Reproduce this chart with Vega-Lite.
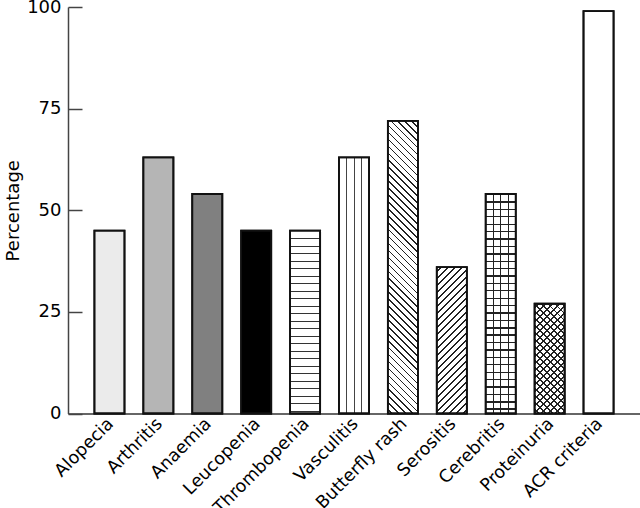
{
  "$schema": "https://vega.github.io/schema/vega-lite/v6.json",
  "autosize": "none",
  "padding": {"left": 68, "top": 7, "right": 0, "bottom": 95},
  "width": 572,
  "height": 406.5,
  "config": {"view": {"stroke": null}, "font": "DejaVu Sans"},
  "data": {"values": [
    {"symptom": "Alopecia", "pct": 45},
    {"symptom": "Arthritis", "pct": 63},
    {"symptom": "Anaemia", "pct": 54},
    {"symptom": "Leucopenia", "pct": 45},
    {"symptom": "Thrombopenia", "pct": 45},
    {"symptom": "Vasculitis", "pct": 63},
    {"symptom": "Butterfly rash", "pct": 72},
    {"symptom": "Serositis", "pct": 36},
    {"symptom": "Cerebritis", "pct": 54},
    {"symptom": "Proteinuria", "pct": 27},
    {"symptom": "ACR criteria", "pct": 99}
  ]},
  "encoding": {
    "x": {"field": "symptom", "type": "nominal", "sort": null,
      "scale": {"paddingInner": 0.385, "paddingOuter": 0.54},
      "axis": {"title": null, "ticks": false, "labelAngle": -45, "labelAlign": "right", "labelBaseline": "top", "labelFontSize": 17.5, "labelColor": "black", "labelPadding": 1, "labelOffset": -5, "domainColor": "#333", "domainWidth": 1.5}},
    "y": {"field": "pct", "type": "quantitative",
      "scale": {"domain": [0, 100]},
      "axis": {"title": "Percentage", "values": [0, 25, 50, 75, 100], "tickSize": -14, "labelPadding": 21, "tickColor": "#444", "tickWidth": 1.5, "domainColor": "#444", "domainWidth": 1.5, "grid": false, "labelFontSize": 18, "labelColor": "black", "titleFontSize": 18, "titleFontWeight": "normal", "titleColor": "black", "titlePadding": 4}}
  },
  "layer": [
    {
      "mark": {"type": "bar", "stroke": "#111", "strokeWidth": 1.8},
      "encoding": {"fill": {"condition": [
        {"test": "datum.symptom === 'Alopecia'", "value": "#ebebeb"},
        {"test": "datum.symptom === 'Arthritis'", "value": "#b5b5b5"},
        {"test": "datum.symptom === 'Anaemia'", "value": "#808080"},
        {"test": "datum.symptom === 'Leucopenia'", "value": "#000000"},
        {"test": "datum.symptom === 'Thrombopenia'", "value": {"gradient": "linear", "x1": 0, "y1": 0, "x2": 0, "y2": 1, "stops": [
          {"offset":0.041,"color":"#fff"},{"offset":0.041,"color":"#333"},{"offset":0.047,"color":"#333"},{"offset":0.047,"color":"#fff"},
          {"offset":0.082,"color":"#fff"},{"offset":0.082,"color":"#333"},{"offset":0.088,"color":"#333"},{"offset":0.088,"color":"#fff"},
          {"offset":0.123,"color":"#fff"},{"offset":0.123,"color":"#333"},{"offset":0.129,"color":"#333"},{"offset":0.129,"color":"#fff"},
          {"offset":0.164,"color":"#fff"},{"offset":0.164,"color":"#333"},{"offset":0.170,"color":"#333"},{"offset":0.170,"color":"#fff"},
          {"offset":0.205,"color":"#fff"},{"offset":0.205,"color":"#333"},{"offset":0.211,"color":"#333"},{"offset":0.211,"color":"#fff"},
          {"offset":0.246,"color":"#fff"},{"offset":0.246,"color":"#333"},{"offset":0.252,"color":"#333"},{"offset":0.252,"color":"#fff"},
          {"offset":0.287,"color":"#fff"},{"offset":0.287,"color":"#333"},{"offset":0.293,"color":"#333"},{"offset":0.293,"color":"#fff"},
          {"offset":0.328,"color":"#fff"},{"offset":0.328,"color":"#333"},{"offset":0.334,"color":"#333"},{"offset":0.334,"color":"#fff"},
          {"offset":0.369,"color":"#fff"},{"offset":0.369,"color":"#333"},{"offset":0.375,"color":"#333"},{"offset":0.375,"color":"#fff"},
          {"offset":0.410,"color":"#fff"},{"offset":0.410,"color":"#333"},{"offset":0.416,"color":"#333"},{"offset":0.416,"color":"#fff"},
          {"offset":0.451,"color":"#fff"},{"offset":0.451,"color":"#333"},{"offset":0.457,"color":"#333"},{"offset":0.457,"color":"#fff"},
          {"offset":0.492,"color":"#fff"},{"offset":0.492,"color":"#333"},{"offset":0.498,"color":"#333"},{"offset":0.498,"color":"#fff"},
          {"offset":0.533,"color":"#fff"},{"offset":0.533,"color":"#333"},{"offset":0.539,"color":"#333"},{"offset":0.539,"color":"#fff"},
          {"offset":0.574,"color":"#fff"},{"offset":0.574,"color":"#333"},{"offset":0.580,"color":"#333"},{"offset":0.580,"color":"#fff"},
          {"offset":0.615,"color":"#fff"},{"offset":0.615,"color":"#333"},{"offset":0.621,"color":"#333"},{"offset":0.621,"color":"#fff"},
          {"offset":0.656,"color":"#fff"},{"offset":0.656,"color":"#333"},{"offset":0.662,"color":"#333"},{"offset":0.662,"color":"#fff"},
          {"offset":0.697,"color":"#fff"},{"offset":0.697,"color":"#333"},{"offset":0.703,"color":"#333"},{"offset":0.703,"color":"#fff"},
          {"offset":0.738,"color":"#fff"},{"offset":0.738,"color":"#333"},{"offset":0.744,"color":"#333"},{"offset":0.744,"color":"#fff"},
          {"offset":0.779,"color":"#fff"},{"offset":0.779,"color":"#333"},{"offset":0.785,"color":"#333"},{"offset":0.785,"color":"#fff"},
          {"offset":0.820,"color":"#fff"},{"offset":0.820,"color":"#333"},{"offset":0.826,"color":"#333"},{"offset":0.826,"color":"#fff"},
          {"offset":0.861,"color":"#fff"},{"offset":0.861,"color":"#333"},{"offset":0.867,"color":"#333"},{"offset":0.867,"color":"#fff"},
          {"offset":0.902,"color":"#fff"},{"offset":0.902,"color":"#333"},{"offset":0.908,"color":"#333"},{"offset":0.908,"color":"#fff"},
          {"offset":0.943,"color":"#fff"},{"offset":0.943,"color":"#333"},{"offset":0.949,"color":"#333"},{"offset":0.949,"color":"#fff"},
          {"offset":0.984,"color":"#fff"},{"offset":0.984,"color":"#333"},{"offset":0.990,"color":"#333"},{"offset":0.990,"color":"#fff"}
        ]}},
        {"test": "datum.symptom === 'Vasculitis'", "value": {"gradient": "linear", "x1": 0, "y1": 0, "x2": 1, "y2": 0, "stops": [
          {"offset":0.235,"color":"#fff"},{"offset":0.235,"color":"#444"},{"offset":0.268,"color":"#444"},{"offset":0.268,"color":"#fff"},
          {"offset":0.485,"color":"#fff"},{"offset":0.485,"color":"#444"},{"offset":0.518,"color":"#444"},{"offset":0.518,"color":"#fff"},
          {"offset":0.735,"color":"#fff"},{"offset":0.735,"color":"#444"},{"offset":0.768,"color":"#444"},{"offset":0.768,"color":"#fff"}
        ]}},
        {"test": "datum.symptom === 'Butterfly rash'", "value": {"gradient": "linear", "x1": 0, "y1": 1, "x2": 0.1122, "y2": -0.0912, "stops": [
          {"offset":0.010,"color":"#fff"},{"offset":0.010,"color":"#222"},{"offset":0.015,"color":"#222"},{"offset":0.015,"color":"#fff"},
          {"offset":0.0315,"color":"#fff"},{"offset":0.0315,"color":"#222"},{"offset":0.0365,"color":"#222"},{"offset":0.0365,"color":"#fff"},
          {"offset":0.053,"color":"#fff"},{"offset":0.053,"color":"#222"},{"offset":0.058,"color":"#222"},{"offset":0.058,"color":"#fff"},
          {"offset":0.0745,"color":"#fff"},{"offset":0.0745,"color":"#222"},{"offset":0.0795,"color":"#222"},{"offset":0.0795,"color":"#fff"},
          {"offset":0.096,"color":"#fff"},{"offset":0.096,"color":"#222"},{"offset":0.101,"color":"#222"},{"offset":0.101,"color":"#fff"},
          {"offset":0.1175,"color":"#fff"},{"offset":0.1175,"color":"#222"},{"offset":0.1225,"color":"#222"},{"offset":0.1225,"color":"#fff"},
          {"offset":0.139,"color":"#fff"},{"offset":0.139,"color":"#222"},{"offset":0.144,"color":"#222"},{"offset":0.144,"color":"#fff"},
          {"offset":0.1605,"color":"#fff"},{"offset":0.1605,"color":"#222"},{"offset":0.1655,"color":"#222"},{"offset":0.1655,"color":"#fff"},
          {"offset":0.182,"color":"#fff"},{"offset":0.182,"color":"#222"},{"offset":0.187,"color":"#222"},{"offset":0.187,"color":"#fff"},
          {"offset":0.2035,"color":"#fff"},{"offset":0.2035,"color":"#222"},{"offset":0.2085,"color":"#222"},{"offset":0.2085,"color":"#fff"},
          {"offset":0.225,"color":"#fff"},{"offset":0.225,"color":"#222"},{"offset":0.230,"color":"#222"},{"offset":0.230,"color":"#fff"},
          {"offset":0.2465,"color":"#fff"},{"offset":0.2465,"color":"#222"},{"offset":0.2515,"color":"#222"},{"offset":0.2515,"color":"#fff"},
          {"offset":0.268,"color":"#fff"},{"offset":0.268,"color":"#222"},{"offset":0.273,"color":"#222"},{"offset":0.273,"color":"#fff"},
          {"offset":0.2895,"color":"#fff"},{"offset":0.2895,"color":"#222"},{"offset":0.2945,"color":"#222"},{"offset":0.2945,"color":"#fff"},
          {"offset":0.311,"color":"#fff"},{"offset":0.311,"color":"#222"},{"offset":0.316,"color":"#222"},{"offset":0.316,"color":"#fff"},
          {"offset":0.3325,"color":"#fff"},{"offset":0.3325,"color":"#222"},{"offset":0.3375,"color":"#222"},{"offset":0.3375,"color":"#fff"},
          {"offset":0.354,"color":"#fff"},{"offset":0.354,"color":"#222"},{"offset":0.359,"color":"#222"},{"offset":0.359,"color":"#fff"},
          {"offset":0.3755,"color":"#fff"},{"offset":0.3755,"color":"#222"},{"offset":0.3805,"color":"#222"},{"offset":0.3805,"color":"#fff"},
          {"offset":0.397,"color":"#fff"},{"offset":0.397,"color":"#222"},{"offset":0.402,"color":"#222"},{"offset":0.402,"color":"#fff"},
          {"offset":0.4185,"color":"#fff"},{"offset":0.4185,"color":"#222"},{"offset":0.4235,"color":"#222"},{"offset":0.4235,"color":"#fff"},
          {"offset":0.440,"color":"#fff"},{"offset":0.440,"color":"#222"},{"offset":0.445,"color":"#222"},{"offset":0.445,"color":"#fff"},
          {"offset":0.4615,"color":"#fff"},{"offset":0.4615,"color":"#222"},{"offset":0.4665,"color":"#222"},{"offset":0.4665,"color":"#fff"},
          {"offset":0.483,"color":"#fff"},{"offset":0.483,"color":"#222"},{"offset":0.488,"color":"#222"},{"offset":0.488,"color":"#fff"},
          {"offset":0.5045,"color":"#fff"},{"offset":0.5045,"color":"#222"},{"offset":0.5095,"color":"#222"},{"offset":0.5095,"color":"#fff"},
          {"offset":0.526,"color":"#fff"},{"offset":0.526,"color":"#222"},{"offset":0.531,"color":"#222"},{"offset":0.531,"color":"#fff"},
          {"offset":0.5475,"color":"#fff"},{"offset":0.5475,"color":"#222"},{"offset":0.5525,"color":"#222"},{"offset":0.5525,"color":"#fff"},
          {"offset":0.569,"color":"#fff"},{"offset":0.569,"color":"#222"},{"offset":0.574,"color":"#222"},{"offset":0.574,"color":"#fff"},
          {"offset":0.5905,"color":"#fff"},{"offset":0.5905,"color":"#222"},{"offset":0.5955,"color":"#222"},{"offset":0.5955,"color":"#fff"},
          {"offset":0.612,"color":"#fff"},{"offset":0.612,"color":"#222"},{"offset":0.617,"color":"#222"},{"offset":0.617,"color":"#fff"},
          {"offset":0.6335,"color":"#fff"},{"offset":0.6335,"color":"#222"},{"offset":0.6385,"color":"#222"},{"offset":0.6385,"color":"#fff"},
          {"offset":0.655,"color":"#fff"},{"offset":0.655,"color":"#222"},{"offset":0.660,"color":"#222"},{"offset":0.660,"color":"#fff"},
          {"offset":0.6765,"color":"#fff"},{"offset":0.6765,"color":"#222"},{"offset":0.6815,"color":"#222"},{"offset":0.6815,"color":"#fff"},
          {"offset":0.698,"color":"#fff"},{"offset":0.698,"color":"#222"},{"offset":0.703,"color":"#222"},{"offset":0.703,"color":"#fff"},
          {"offset":0.7195,"color":"#fff"},{"offset":0.7195,"color":"#222"},{"offset":0.7245,"color":"#222"},{"offset":0.7245,"color":"#fff"},
          {"offset":0.741,"color":"#fff"},{"offset":0.741,"color":"#222"},{"offset":0.746,"color":"#222"},{"offset":0.746,"color":"#fff"},
          {"offset":0.7625,"color":"#fff"},{"offset":0.7625,"color":"#222"},{"offset":0.7675,"color":"#222"},{"offset":0.7675,"color":"#fff"},
          {"offset":0.784,"color":"#fff"},{"offset":0.784,"color":"#222"},{"offset":0.789,"color":"#222"},{"offset":0.789,"color":"#fff"},
          {"offset":0.8055,"color":"#fff"},{"offset":0.8055,"color":"#222"},{"offset":0.8105,"color":"#222"},{"offset":0.8105,"color":"#fff"},
          {"offset":0.827,"color":"#fff"},{"offset":0.827,"color":"#222"},{"offset":0.832,"color":"#222"},{"offset":0.832,"color":"#fff"},
          {"offset":0.8485,"color":"#fff"},{"offset":0.8485,"color":"#222"},{"offset":0.8535,"color":"#222"},{"offset":0.8535,"color":"#fff"},
          {"offset":0.870,"color":"#fff"},{"offset":0.870,"color":"#222"},{"offset":0.875,"color":"#222"},{"offset":0.875,"color":"#fff"},
          {"offset":0.8915,"color":"#fff"},{"offset":0.8915,"color":"#222"},{"offset":0.8965,"color":"#222"},{"offset":0.8965,"color":"#fff"},
          {"offset":0.913,"color":"#fff"},{"offset":0.913,"color":"#222"},{"offset":0.918,"color":"#222"},{"offset":0.918,"color":"#fff"},
          {"offset":0.9345,"color":"#fff"},{"offset":0.9345,"color":"#222"},{"offset":0.9395,"color":"#222"},{"offset":0.9395,"color":"#fff"},
          {"offset":0.956,"color":"#fff"},{"offset":0.956,"color":"#222"},{"offset":0.961,"color":"#222"},{"offset":0.961,"color":"#fff"},
          {"offset":0.9775,"color":"#fff"},{"offset":0.9775,"color":"#222"},{"offset":0.9825,"color":"#222"},{"offset":0.9825,"color":"#fff"}
        ]}},
        {"test": "datum.symptom === 'Serositis'", "value": {"gradient": "linear", "x1": 0, "y1": 0, "x2": 0.238, "y2": 1.1568, "stops": [
          {"offset":0.020,"color":"#fff"},{"offset":0.020,"color":"#222"},{"offset":0.029,"color":"#222"},{"offset":0.029,"color":"#fff"},
          {"offset":0.0597,"color":"#fff"},{"offset":0.0597,"color":"#222"},{"offset":0.0687,"color":"#222"},{"offset":0.0687,"color":"#fff"},
          {"offset":0.0994,"color":"#fff"},{"offset":0.0994,"color":"#222"},{"offset":0.1084,"color":"#222"},{"offset":0.1084,"color":"#fff"},
          {"offset":0.1391,"color":"#fff"},{"offset":0.1391,"color":"#222"},{"offset":0.1481,"color":"#222"},{"offset":0.1481,"color":"#fff"},
          {"offset":0.1788,"color":"#fff"},{"offset":0.1788,"color":"#222"},{"offset":0.1878,"color":"#222"},{"offset":0.1878,"color":"#fff"},
          {"offset":0.2185,"color":"#fff"},{"offset":0.2185,"color":"#222"},{"offset":0.2275,"color":"#222"},{"offset":0.2275,"color":"#fff"},
          {"offset":0.2582,"color":"#fff"},{"offset":0.2582,"color":"#222"},{"offset":0.2672,"color":"#222"},{"offset":0.2672,"color":"#fff"},
          {"offset":0.2979,"color":"#fff"},{"offset":0.2979,"color":"#222"},{"offset":0.3069,"color":"#222"},{"offset":0.3069,"color":"#fff"},
          {"offset":0.3376,"color":"#fff"},{"offset":0.3376,"color":"#222"},{"offset":0.3466,"color":"#222"},{"offset":0.3466,"color":"#fff"},
          {"offset":0.3773,"color":"#fff"},{"offset":0.3773,"color":"#222"},{"offset":0.3863,"color":"#222"},{"offset":0.3863,"color":"#fff"},
          {"offset":0.417,"color":"#fff"},{"offset":0.417,"color":"#222"},{"offset":0.426,"color":"#222"},{"offset":0.426,"color":"#fff"},
          {"offset":0.4567,"color":"#fff"},{"offset":0.4567,"color":"#222"},{"offset":0.4657,"color":"#222"},{"offset":0.4657,"color":"#fff"},
          {"offset":0.4964,"color":"#fff"},{"offset":0.4964,"color":"#222"},{"offset":0.5054,"color":"#222"},{"offset":0.5054,"color":"#fff"},
          {"offset":0.5361,"color":"#fff"},{"offset":0.5361,"color":"#222"},{"offset":0.5451,"color":"#222"},{"offset":0.5451,"color":"#fff"},
          {"offset":0.5758,"color":"#fff"},{"offset":0.5758,"color":"#222"},{"offset":0.5848,"color":"#222"},{"offset":0.5848,"color":"#fff"},
          {"offset":0.6155,"color":"#fff"},{"offset":0.6155,"color":"#222"},{"offset":0.6245,"color":"#222"},{"offset":0.6245,"color":"#fff"},
          {"offset":0.6552,"color":"#fff"},{"offset":0.6552,"color":"#222"},{"offset":0.6642,"color":"#222"},{"offset":0.6642,"color":"#fff"},
          {"offset":0.6949,"color":"#fff"},{"offset":0.6949,"color":"#222"},{"offset":0.7039,"color":"#222"},{"offset":0.7039,"color":"#fff"},
          {"offset":0.7346,"color":"#fff"},{"offset":0.7346,"color":"#222"},{"offset":0.7436,"color":"#222"},{"offset":0.7436,"color":"#fff"},
          {"offset":0.7743,"color":"#fff"},{"offset":0.7743,"color":"#222"},{"offset":0.7833,"color":"#222"},{"offset":0.7833,"color":"#fff"},
          {"offset":0.814,"color":"#fff"},{"offset":0.814,"color":"#222"},{"offset":0.823,"color":"#222"},{"offset":0.823,"color":"#fff"},
          {"offset":0.8537,"color":"#fff"},{"offset":0.8537,"color":"#222"},{"offset":0.8627,"color":"#222"},{"offset":0.8627,"color":"#fff"},
          {"offset":0.8934,"color":"#fff"},{"offset":0.8934,"color":"#222"},{"offset":0.9024,"color":"#222"},{"offset":0.9024,"color":"#fff"},
          {"offset":0.9331,"color":"#fff"},{"offset":0.9331,"color":"#222"},{"offset":0.9421,"color":"#222"},{"offset":0.9421,"color":"#fff"},
          {"offset":0.9728,"color":"#fff"},{"offset":0.9728,"color":"#222"},{"offset":0.9818,"color":"#222"},{"offset":0.9818,"color":"#fff"}
        ]}},
        {"test": "datum.symptom === 'Cerebritis'", "value": {"gradient": "linear", "x1": 0, "y1": 0, "x2": 0, "y2": 1, "stops": [
          {"offset":0.034,"color":"#fff"},{"offset":0.034,"color":"#222"},{"offset":0.040,"color":"#222"},{"offset":0.040,"color":"#fff"},
          {"offset":0.067,"color":"#fff"},{"offset":0.067,"color":"#222"},{"offset":0.073,"color":"#222"},{"offset":0.073,"color":"#fff"},
          {"offset":0.101,"color":"#fff"},{"offset":0.101,"color":"#222"},{"offset":0.107,"color":"#222"},{"offset":0.107,"color":"#fff"},
          {"offset":0.135,"color":"#fff"},{"offset":0.135,"color":"#222"},{"offset":0.141,"color":"#222"},{"offset":0.141,"color":"#fff"},
          {"offset":0.169,"color":"#fff"},{"offset":0.169,"color":"#222"},{"offset":0.175,"color":"#222"},{"offset":0.175,"color":"#fff"},
          {"offset":0.202,"color":"#fff"},{"offset":0.202,"color":"#222"},{"offset":0.208,"color":"#222"},{"offset":0.208,"color":"#fff"},
          {"offset":0.236,"color":"#fff"},{"offset":0.236,"color":"#222"},{"offset":0.242,"color":"#222"},{"offset":0.242,"color":"#fff"},
          {"offset":0.270,"color":"#fff"},{"offset":0.270,"color":"#222"},{"offset":0.276,"color":"#222"},{"offset":0.276,"color":"#fff"},
          {"offset":0.303,"color":"#fff"},{"offset":0.303,"color":"#222"},{"offset":0.309,"color":"#222"},{"offset":0.309,"color":"#fff"},
          {"offset":0.337,"color":"#fff"},{"offset":0.337,"color":"#222"},{"offset":0.343,"color":"#222"},{"offset":0.343,"color":"#fff"},
          {"offset":0.371,"color":"#fff"},{"offset":0.371,"color":"#222"},{"offset":0.377,"color":"#222"},{"offset":0.377,"color":"#fff"},
          {"offset":0.404,"color":"#fff"},{"offset":0.404,"color":"#222"},{"offset":0.410,"color":"#222"},{"offset":0.410,"color":"#fff"},
          {"offset":0.438,"color":"#fff"},{"offset":0.438,"color":"#222"},{"offset":0.444,"color":"#222"},{"offset":0.444,"color":"#fff"},
          {"offset":0.472,"color":"#fff"},{"offset":0.472,"color":"#222"},{"offset":0.478,"color":"#222"},{"offset":0.478,"color":"#fff"},
          {"offset":0.506,"color":"#fff"},{"offset":0.506,"color":"#222"},{"offset":0.512,"color":"#222"},{"offset":0.512,"color":"#fff"},
          {"offset":0.539,"color":"#fff"},{"offset":0.539,"color":"#222"},{"offset":0.545,"color":"#222"},{"offset":0.545,"color":"#fff"},
          {"offset":0.573,"color":"#fff"},{"offset":0.573,"color":"#222"},{"offset":0.579,"color":"#222"},{"offset":0.579,"color":"#fff"},
          {"offset":0.607,"color":"#fff"},{"offset":0.607,"color":"#222"},{"offset":0.613,"color":"#222"},{"offset":0.613,"color":"#fff"},
          {"offset":0.640,"color":"#fff"},{"offset":0.640,"color":"#222"},{"offset":0.646,"color":"#222"},{"offset":0.646,"color":"#fff"},
          {"offset":0.674,"color":"#fff"},{"offset":0.674,"color":"#222"},{"offset":0.680,"color":"#222"},{"offset":0.680,"color":"#fff"},
          {"offset":0.708,"color":"#fff"},{"offset":0.708,"color":"#222"},{"offset":0.714,"color":"#222"},{"offset":0.714,"color":"#fff"},
          {"offset":0.741,"color":"#fff"},{"offset":0.741,"color":"#222"},{"offset":0.747,"color":"#222"},{"offset":0.747,"color":"#fff"},
          {"offset":0.775,"color":"#fff"},{"offset":0.775,"color":"#222"},{"offset":0.781,"color":"#222"},{"offset":0.781,"color":"#fff"},
          {"offset":0.809,"color":"#fff"},{"offset":0.809,"color":"#222"},{"offset":0.815,"color":"#222"},{"offset":0.815,"color":"#fff"},
          {"offset":0.843,"color":"#fff"},{"offset":0.843,"color":"#222"},{"offset":0.849,"color":"#222"},{"offset":0.849,"color":"#fff"},
          {"offset":0.876,"color":"#fff"},{"offset":0.876,"color":"#222"},{"offset":0.882,"color":"#222"},{"offset":0.882,"color":"#fff"},
          {"offset":0.910,"color":"#fff"},{"offset":0.910,"color":"#222"},{"offset":0.916,"color":"#222"},{"offset":0.916,"color":"#fff"},
          {"offset":0.944,"color":"#fff"},{"offset":0.944,"color":"#222"},{"offset":0.950,"color":"#222"},{"offset":0.950,"color":"#fff"},
          {"offset":0.977,"color":"#fff"},{"offset":0.977,"color":"#222"},{"offset":0.983,"color":"#222"},{"offset":0.983,"color":"#fff"}
        ]}},
        {"test": "datum.symptom === 'Proteinuria'", "value": {"gradient": "linear", "x1": 0, "y1": 1, "x2": 0.3249, "y2": -0.1851, "stops": [
          {"offset":0.025,"color":"#fff"},{"offset":0.025,"color":"#222"},{"offset":0.036,"color":"#222"},{"offset":0.036,"color":"#fff"},
          {"offset":0.075,"color":"#fff"},{"offset":0.075,"color":"#222"},{"offset":0.086,"color":"#222"},{"offset":0.086,"color":"#fff"},
          {"offset":0.125,"color":"#fff"},{"offset":0.125,"color":"#222"},{"offset":0.136,"color":"#222"},{"offset":0.136,"color":"#fff"},
          {"offset":0.175,"color":"#fff"},{"offset":0.175,"color":"#222"},{"offset":0.186,"color":"#222"},{"offset":0.186,"color":"#fff"},
          {"offset":0.225,"color":"#fff"},{"offset":0.225,"color":"#222"},{"offset":0.236,"color":"#222"},{"offset":0.236,"color":"#fff"},
          {"offset":0.275,"color":"#fff"},{"offset":0.275,"color":"#222"},{"offset":0.286,"color":"#222"},{"offset":0.286,"color":"#fff"},
          {"offset":0.325,"color":"#fff"},{"offset":0.325,"color":"#222"},{"offset":0.336,"color":"#222"},{"offset":0.336,"color":"#fff"},
          {"offset":0.375,"color":"#fff"},{"offset":0.375,"color":"#222"},{"offset":0.386,"color":"#222"},{"offset":0.386,"color":"#fff"},
          {"offset":0.425,"color":"#fff"},{"offset":0.425,"color":"#222"},{"offset":0.436,"color":"#222"},{"offset":0.436,"color":"#fff"},
          {"offset":0.475,"color":"#fff"},{"offset":0.475,"color":"#222"},{"offset":0.486,"color":"#222"},{"offset":0.486,"color":"#fff"},
          {"offset":0.525,"color":"#fff"},{"offset":0.525,"color":"#222"},{"offset":0.536,"color":"#222"},{"offset":0.536,"color":"#fff"},
          {"offset":0.575,"color":"#fff"},{"offset":0.575,"color":"#222"},{"offset":0.586,"color":"#222"},{"offset":0.586,"color":"#fff"},
          {"offset":0.625,"color":"#fff"},{"offset":0.625,"color":"#222"},{"offset":0.636,"color":"#222"},{"offset":0.636,"color":"#fff"},
          {"offset":0.675,"color":"#fff"},{"offset":0.675,"color":"#222"},{"offset":0.686,"color":"#222"},{"offset":0.686,"color":"#fff"},
          {"offset":0.725,"color":"#fff"},{"offset":0.725,"color":"#222"},{"offset":0.736,"color":"#222"},{"offset":0.736,"color":"#fff"},
          {"offset":0.775,"color":"#fff"},{"offset":0.775,"color":"#222"},{"offset":0.786,"color":"#222"},{"offset":0.786,"color":"#fff"},
          {"offset":0.825,"color":"#fff"},{"offset":0.825,"color":"#222"},{"offset":0.836,"color":"#222"},{"offset":0.836,"color":"#fff"},
          {"offset":0.875,"color":"#fff"},{"offset":0.875,"color":"#222"},{"offset":0.886,"color":"#222"},{"offset":0.886,"color":"#fff"},
          {"offset":0.925,"color":"#fff"},{"offset":0.925,"color":"#222"},{"offset":0.936,"color":"#222"},{"offset":0.936,"color":"#fff"},
          {"offset":0.975,"color":"#fff"},{"offset":0.975,"color":"#222"},{"offset":0.986,"color":"#222"},{"offset":0.986,"color":"#fff"}
        ]}}
      ], "value": "#ffffff"}}
    },
    {
      "mark": {"type": "bar", "stroke": "#111", "strokeWidth": 1.8},
      "encoding": {"fill": {"condition": [
        {"test": "datum.symptom === 'Cerebritis'", "value": {"gradient": "linear", "x1": 0, "y1": 0, "x2": 1, "y2": 0, "stops": [
          {"offset":0.235,"color":"rgba(0,0,0,0)"},{"offset":0.235,"color":"#222"},{"offset":0.268,"color":"#222"},{"offset":0.268,"color":"rgba(0,0,0,0)"},
          {"offset":0.485,"color":"rgba(0,0,0,0)"},{"offset":0.485,"color":"#222"},{"offset":0.518,"color":"#222"},{"offset":0.518,"color":"rgba(0,0,0,0)"},
          {"offset":0.735,"color":"rgba(0,0,0,0)"},{"offset":0.735,"color":"#222"},{"offset":0.768,"color":"#222"},{"offset":0.768,"color":"rgba(0,0,0,0)"}
        ]}},
        {"test": "datum.symptom === 'Proteinuria'", "value": {"gradient": "linear", "x1": 0, "y1": 0, "x2": 0.3249, "y2": 1.1851, "stops": [
          {"offset":0.025,"color":"rgba(0,0,0,0)"},{"offset":0.025,"color":"#222"},{"offset":0.036,"color":"#222"},{"offset":0.036,"color":"rgba(0,0,0,0)"},
          {"offset":0.075,"color":"rgba(0,0,0,0)"},{"offset":0.075,"color":"#222"},{"offset":0.086,"color":"#222"},{"offset":0.086,"color":"rgba(0,0,0,0)"},
          {"offset":0.125,"color":"rgba(0,0,0,0)"},{"offset":0.125,"color":"#222"},{"offset":0.136,"color":"#222"},{"offset":0.136,"color":"rgba(0,0,0,0)"},
          {"offset":0.175,"color":"rgba(0,0,0,0)"},{"offset":0.175,"color":"#222"},{"offset":0.186,"color":"#222"},{"offset":0.186,"color":"rgba(0,0,0,0)"},
          {"offset":0.225,"color":"rgba(0,0,0,0)"},{"offset":0.225,"color":"#222"},{"offset":0.236,"color":"#222"},{"offset":0.236,"color":"rgba(0,0,0,0)"},
          {"offset":0.275,"color":"rgba(0,0,0,0)"},{"offset":0.275,"color":"#222"},{"offset":0.286,"color":"#222"},{"offset":0.286,"color":"rgba(0,0,0,0)"},
          {"offset":0.325,"color":"rgba(0,0,0,0)"},{"offset":0.325,"color":"#222"},{"offset":0.336,"color":"#222"},{"offset":0.336,"color":"rgba(0,0,0,0)"},
          {"offset":0.375,"color":"rgba(0,0,0,0)"},{"offset":0.375,"color":"#222"},{"offset":0.386,"color":"#222"},{"offset":0.386,"color":"rgba(0,0,0,0)"},
          {"offset":0.425,"color":"rgba(0,0,0,0)"},{"offset":0.425,"color":"#222"},{"offset":0.436,"color":"#222"},{"offset":0.436,"color":"rgba(0,0,0,0)"},
          {"offset":0.475,"color":"rgba(0,0,0,0)"},{"offset":0.475,"color":"#222"},{"offset":0.486,"color":"#222"},{"offset":0.486,"color":"rgba(0,0,0,0)"},
          {"offset":0.525,"color":"rgba(0,0,0,0)"},{"offset":0.525,"color":"#222"},{"offset":0.536,"color":"#222"},{"offset":0.536,"color":"rgba(0,0,0,0)"},
          {"offset":0.575,"color":"rgba(0,0,0,0)"},{"offset":0.575,"color":"#222"},{"offset":0.586,"color":"#222"},{"offset":0.586,"color":"rgba(0,0,0,0)"},
          {"offset":0.625,"color":"rgba(0,0,0,0)"},{"offset":0.625,"color":"#222"},{"offset":0.636,"color":"#222"},{"offset":0.636,"color":"rgba(0,0,0,0)"},
          {"offset":0.675,"color":"rgba(0,0,0,0)"},{"offset":0.675,"color":"#222"},{"offset":0.686,"color":"#222"},{"offset":0.686,"color":"rgba(0,0,0,0)"},
          {"offset":0.725,"color":"rgba(0,0,0,0)"},{"offset":0.725,"color":"#222"},{"offset":0.736,"color":"#222"},{"offset":0.736,"color":"rgba(0,0,0,0)"},
          {"offset":0.775,"color":"rgba(0,0,0,0)"},{"offset":0.775,"color":"#222"},{"offset":0.786,"color":"#222"},{"offset":0.786,"color":"rgba(0,0,0,0)"},
          {"offset":0.825,"color":"rgba(0,0,0,0)"},{"offset":0.825,"color":"#222"},{"offset":0.836,"color":"#222"},{"offset":0.836,"color":"rgba(0,0,0,0)"},
          {"offset":0.875,"color":"rgba(0,0,0,0)"},{"offset":0.875,"color":"#222"},{"offset":0.886,"color":"#222"},{"offset":0.886,"color":"rgba(0,0,0,0)"},
          {"offset":0.925,"color":"rgba(0,0,0,0)"},{"offset":0.925,"color":"#222"},{"offset":0.936,"color":"#222"},{"offset":0.936,"color":"rgba(0,0,0,0)"},
          {"offset":0.975,"color":"rgba(0,0,0,0)"},{"offset":0.975,"color":"#222"},{"offset":0.986,"color":"#222"},{"offset":0.986,"color":"rgba(0,0,0,0)"}
        ]}}
      ], "value": "transparent"}}
    }
  ]
}
